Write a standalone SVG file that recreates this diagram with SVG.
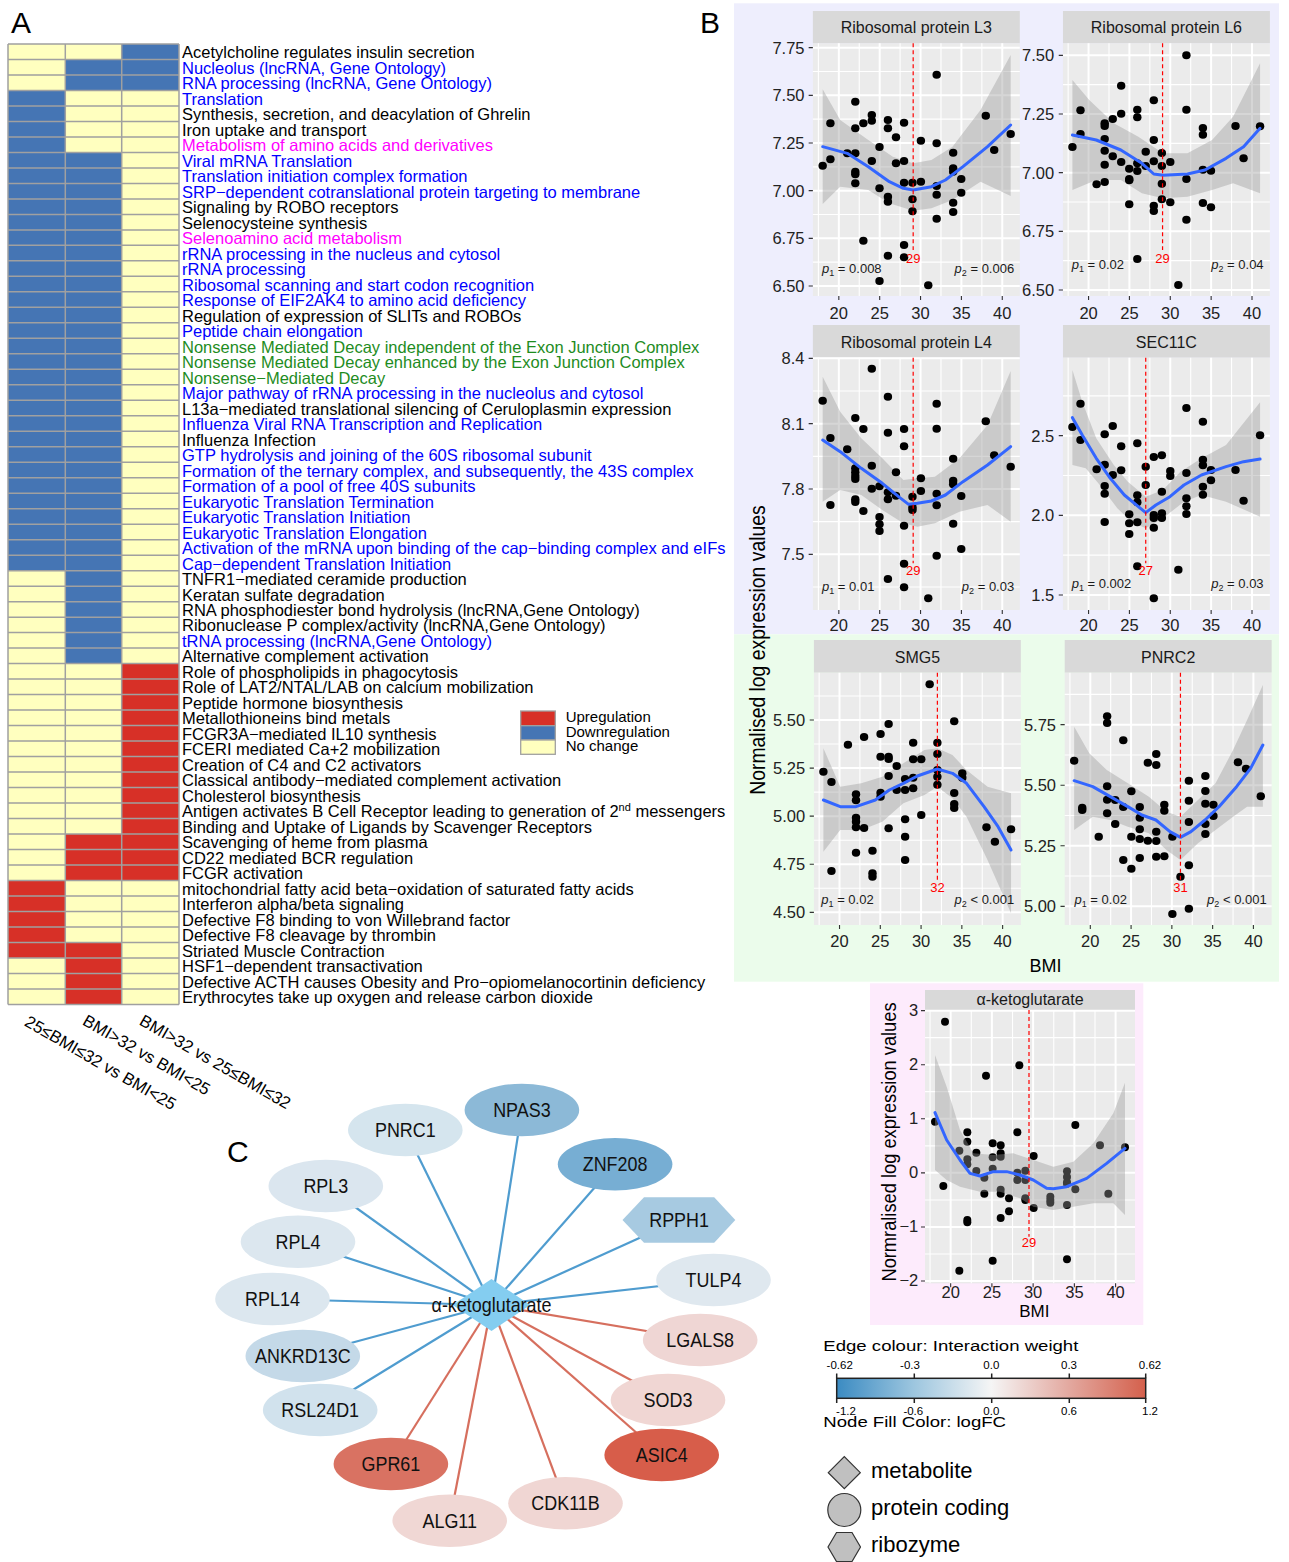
<svg xmlns="http://www.w3.org/2000/svg" width="1289" height="1562" viewBox="0 0 1289 1562">
<defs>
<style>
text{font-family:'Liberation Sans',Arial,sans-serif}
.hm{font-size:16.5px}
.k{fill:#000}.bl{fill:#0000FF}.mg{fill:#FF00FF}.gr{fill:#1E8C1E}
.lt{font-size:30px;fill:#000}
.strip{fill:#D9D9D9}.pan{fill:#EBEBEB}
.gmin{stroke:#fff;stroke-width:1.1;fill:none;vector-effect:non-scaling-stroke}
.gmaj{stroke:#fff;stroke-width:2;fill:none;vector-effect:non-scaling-stroke}
.tk{stroke:#333;stroke-width:1.1;fill:none;vector-effect:non-scaling-stroke}
.band{fill:#999;fill-opacity:0.4}
.fit{stroke:#3366FF;stroke-width:3;fill:none;stroke-linejoin:round;stroke-linecap:round;vector-effect:non-scaling-stroke}
.cut{stroke:#FF0000;stroke-width:1.2;stroke-dasharray:4 3;fill:none;vector-effect:non-scaling-stroke}
.pts circle{fill:#000}
.st{font-size:16px;fill:#1A1A1A;text-anchor:middle}
.yl{font-size:16.5px;fill:#222;text-anchor:end}
.xl{font-size:16.5px;fill:#222;text-anchor:middle}
.rl{font-size:13px;fill:#FF0000;text-anchor:middle}
.pv{font-size:13px;fill:#1A1A1A}
.ax{font-size:22px;fill:#000;text-anchor:middle}
.eb{stroke:#4F9CCF;stroke-width:2.2}
.er{stroke:#D66F5E;stroke-width:2.2}
.nl{font-size:19.5px;fill:#111;text-anchor:middle}
.lg{font-size:22px;fill:#000}
.cb{font-size:11.5px;fill:#000;text-anchor:middle}
.sh{fill:#C0C0C0;stroke:#333;stroke-width:1.2}
</style>
<linearGradient id="cbar" x1="0" y1="0" x2="1" y2="0">
<stop offset="0" stop-color="#3B8BC2"/>
<stop offset="0.25" stop-color="#9DC6DF"/>
<stop offset="0.5" stop-color="#F5F5F5"/>
<stop offset="0.75" stop-color="#E3A9A0"/>
<stop offset="1" stop-color="#D4604C"/>
</linearGradient>
</defs>
<rect width="1289" height="1562" fill="#fff"/>

<!-- Panel A heatmap -->
<g id="panelA">
<text class="lt" x="11" y="33">A</text>
<g id="heatmap-cells">
<rect x="8" y="44" width="171" height="960.38" fill="#FFFFBF"/>
<rect x="8" y="90.47" width="57.3" height="480.19" fill="#4575B4"/>
<rect x="8" y="880.46" width="57.3" height="77.45" fill="#D73027"/>
<rect x="65.3" y="59.49" width="56.4" height="30.98" fill="#4575B4"/>
<rect x="65.3" y="152.43" width="56.4" height="511.17" fill="#4575B4"/>
<rect x="65.3" y="833.99" width="56.4" height="46.47" fill="#D73027"/>
<rect x="65.3" y="942.42" width="56.4" height="61.96" fill="#D73027"/>
<rect x="121.7" y="44" width="57.3" height="46.47" fill="#4575B4"/>
<rect x="121.7" y="663.6" width="57.3" height="216.86" fill="#D73027"/>
<path fill="none" stroke="#A0A0A0" stroke-width="1.5" d="M8 44V1004.38M65.3 44V1004.38M121.7 44V1004.38M179 44V1004.38
M8 44H179M8 59.49H179M8 74.98H179M8 90.47H179M8 105.96H179M8 121.45H179M8 136.94H179M8 152.43H179M8 167.92H179M8 183.41H179M8 198.9H179M8 214.39H179M8 229.88H179M8 245.37H179M8 260.86H179M8 276.35H179M8 291.84H179M8 307.33H179M8 322.82H179M8 338.31H179M8 353.8H179M8 369.29H179M8 384.78H179M8 400.27H179M8 415.76H179M8 431.25H179M8 446.74H179M8 462.23H179M8 477.72H179M8 493.21H179M8 508.7H179M8 524.19H179M8 539.68H179M8 555.17H179M8 570.66H179M8 586.15H179M8 601.64H179M8 617.13H179M8 632.62H179M8 648.11H179M8 663.6H179M8 679.09H179M8 694.58H179M8 710.07H179M8 725.56H179M8 741.05H179M8 756.54H179M8 772.03H179M8 787.52H179M8 803.01H179M8 818.5H179M8 833.99H179M8 849.48H179M8 864.97H179M8 880.46H179M8 895.95H179M8 911.44H179M8 926.93H179M8 942.42H179M8 957.91H179M8 973.4H179M8 988.89H179M8 1004.38H179"/>
</g>
<g id="heatmap-labels" class="hm">
<text class="k" x="182" y="58.3">Acetylcholine regulates insulin secretion</text>
<text class="bl" x="182" y="73.8">Nucleolus (lncRNA, Gene Ontology)</text>
<text class="bl" x="182" y="89.3">RNA processing (lncRNA, Gene Ontology)</text>
<text class="bl" x="182" y="104.8">Translation</text>
<text class="k" x="182" y="120.3">Synthesis, secretion, and deacylation of Ghrelin</text>
<text class="k" x="182" y="135.8">Iron uptake and transport</text>
<text class="mg" x="182" y="151.2">Metabolism of amino acids and derivatives</text>
<text class="bl" x="182" y="166.7">Viral mRNA Translation</text>
<text class="bl" x="182" y="182.2">Translation initiation complex formation</text>
<text class="bl" x="182" y="197.7">SRP−dependent cotranslational protein targeting to membrane</text>
<text class="k" x="182" y="213.2">Signaling by ROBO receptors</text>
<text class="k" x="182" y="228.7">Selenocysteine synthesis</text>
<text class="mg" x="182" y="244.2">Selenoamino acid metabolism</text>
<text class="bl" x="182" y="259.7">rRNA processing in the nucleus and cytosol</text>
<text class="bl" x="182" y="275.2">rRNA processing</text>
<text class="bl" x="182" y="290.7">Ribosomal scanning and start codon recognition</text>
<text class="bl" x="182" y="306.1">Response of EIF2AK4 to amino acid deficiency</text>
<text class="k" x="182" y="321.6">Regulation of expression of SLITs and ROBOs</text>
<text class="bl" x="182" y="337.1">Peptide chain elongation</text>
<text class="gr" x="182" y="352.6">Nonsense Mediated Decay independent of the Exon Junction Complex</text>
<text class="gr" x="182" y="368.1">Nonsense Mediated Decay enhanced by the Exon Junction Complex</text>
<text class="gr" x="182" y="383.6">Nonsense−Mediated Decay</text>
<text class="bl" x="182" y="399.1">Major pathway of rRNA processing in the nucleolus and cytosol</text>
<text class="k" x="182" y="414.6">L13a−mediated translational silencing of Ceruloplasmin expression</text>
<text class="bl" x="182" y="430.1">Influenza Viral RNA Transcription and Replication</text>
<text class="k" x="182" y="445.6">Influenza Infection</text>
<text class="bl" x="182" y="461">GTP hydrolysis and joining of the 60S ribosomal subunit</text>
<text class="bl" x="182" y="476.5">Formation of the ternary complex, and subsequently, the 43S complex</text>
<text class="bl" x="182" y="492">Formation of a pool of free 40S subunits</text>
<text class="bl" x="182" y="507.5">Eukaryotic Translation Termination</text>
<text class="bl" x="182" y="523">Eukaryotic Translation Initiation</text>
<text class="bl" x="182" y="538.5">Eukaryotic Translation Elongation</text>
<text class="bl" x="182" y="554">Activation of the mRNA upon binding of the cap−binding complex and eIFs</text>
<text class="bl" x="182" y="569.5">Cap−dependent Translation Initiation</text>
<text class="k" x="182" y="585">TNFR1−mediated ceramide production</text>
<text class="k" x="182" y="600.5">Keratan sulfate degradation</text>
<text class="k" x="182" y="615.9">RNA phosphodiester bond hydrolysis (lncRNA,Gene Ontology)</text>
<text class="k" x="182" y="631.4">Ribonuclease P complex/activity (lncRNA,Gene Ontology)</text>
<text class="bl" x="182" y="646.9">tRNA processing (lncRNA,Gene Ontology)</text>
<text class="k" x="182" y="662.4">Alternative complement activation</text>
<text class="k" x="182" y="677.9">Role of phospholipids in phagocytosis</text>
<text class="k" x="182" y="693.4">Role of LAT2/NTAL/LAB on calcium mobilization</text>
<text class="k" x="182" y="708.9">Peptide hormone biosynthesis</text>
<text class="k" x="182" y="724.4">Metallothioneins bind metals</text>
<text class="k" x="182" y="739.9">FCGR3A−mediated IL10 synthesis</text>
<text class="k" x="182" y="755.4">FCERI mediated Ca+2 mobilization</text>
<text class="k" x="182" y="770.8">Creation of C4 and C2 activators</text>
<text class="k" x="182" y="786.3">Classical antibody−mediated complement activation</text>
<text class="k" x="182" y="801.8">Cholesterol biosynthesis</text>
<text class="k" x="182" y="817.3">Antigen activates B Cell Receptor leading to generation of 2<tspan font-size="11" dy="-6">nd</tspan><tspan dy="6"> messengers</tspan></text>
<text class="k" x="182" y="832.8">Binding and Uptake of Ligands by Scavenger Receptors</text>
<text class="k" x="182" y="848.3">Scavenging of heme from plasma</text>
<text class="k" x="182" y="863.8">CD22 mediated BCR regulation</text>
<text class="k" x="182" y="879.3">FCGR activation</text>
<text class="k" x="182" y="894.8">mitochondrial fatty acid beta−oxidation of saturated fatty acids</text>
<text class="k" x="182" y="910.3">Interferon alpha/beta signaling</text>
<text class="k" x="182" y="925.7">Defective F8 binding to von Willebrand factor</text>
<text class="k" x="182" y="941.2">Defective F8 cleavage by thrombin</text>
<text class="k" x="182" y="956.7">Striated Muscle Contraction</text>
<text class="k" x="182" y="972.2">HSF1−dependent transactivation</text>
<text class="k" x="182" y="987.7">Defective ACTH causes Obesity and Pro−opiomelanocortinin deficiency</text>
<text class="k" x="182" y="1003.2">Erythrocytes take up oxygen and release carbon dioxide</text>
</g>
<g id="heatmap-columns" font-size="16.9" fill="#000">
<text transform="translate(23.6,1025) rotate(30)">25≤BMI≤32 vs BMI&lt;25</text>
<text transform="translate(81.6,1024) rotate(30)">BMI&gt;32 vs BMI&lt;25</text>
<text transform="translate(138.3,1024) rotate(30)">BMI&gt;32 vs 25≤BMI≤32</text>
</g>
<g id="heatmap-legend">
<rect x="520.7" y="711" width="34.6" height="14.7" fill="#D73027" stroke="#A0A0A0" stroke-width="1.3"/>
<rect x="520.7" y="725.7" width="34.6" height="14.3" fill="#4575B4" stroke="#A0A0A0" stroke-width="1.3"/>
<rect x="520.7" y="740" width="34.6" height="14.3" fill="#FFFFBF" stroke="#A0A0A0" stroke-width="1.3"/>
<text x="565.7" y="721.7" font-size="15">Upregulation</text>
<text x="565.7" y="736.7" font-size="15">Downregulation</text>
<text x="565.7" y="750.7" font-size="15">No change</text>
</g>
</g>

<!-- Panel B backgrounds -->
<rect x="734" y="3.3" width="545" height="631" fill="#EEEEFD"/>
<rect x="734" y="634.3" width="545" height="347.4" fill="#EBFCEB"/>
<rect x="870" y="983.3" width="273.3" height="341.7" fill="#FDEBFC"/>
<text class="lt" x="700" y="33">B</text>

<!-- Row 1 -->
<g id="plot-rpl3">
<g transform="translate(735,0) scale(0.35075,0.33333)">
<rect class="strip" x="222" y="33" width="590" height="97"/>
<rect class="pan" x="222" y="130" width="590" height="758"/>
<path class="gmin" d="M237.75 130V888M354.25 130V888M470.75 130V888M587.25 130V888M703.75 130V888M222 214.5H812M222 357.5H812M222 500.5H812M222 643.5H812M222 786.5H812"/>
<path class="gmaj" d="M296 130V888M412.5 130V888M529 130V888M645.5 130V888M762 130V888M222 143H812M222 286H812M222 429H812M222 572H812M222 715H812M222 858H812"/>
<path class="tk" d="M210 143H222M210 286H222M210 429H222M210 572H222M210 715H222M210 858H222M296 888V900M412.5 888V900M529 888V900M645.5 888V900M762 888V900"/>
<path class="band" d="M250 268L300 360L380 420L450 470L508 490L560 480L620 440L700 330L786 165L786 588L700 545L620 600L560 625L508 632L440 610L380 570L300 560L250 612Z"/>
<g class="pts">
<circle cx="250" cy="497" r="12"/><circle cx="272" cy="478" r="12"/><circle cx="272" cy="370" r="12"/><circle cx="320" cy="460" r="12"/><circle cx="343" cy="305" r="12"/><circle cx="343" cy="385" r="12"/><circle cx="343" cy="460" r="12"/><circle cx="343" cy="515" r="12"/><circle cx="343" cy="523" r="12"/><circle cx="343" cy="550" r="12"/><circle cx="366" cy="370" r="12"/><circle cx="366" cy="722" r="12"/><circle cx="390" cy="345" r="12"/><circle cx="390" cy="362" r="12"/><circle cx="390" cy="483" r="12"/><circle cx="412" cy="441" r="12"/><circle cx="412" cy="565" r="12"/><circle cx="412" cy="843" r="12"/><circle cx="436" cy="360" r="12"/><circle cx="436" cy="385" r="12"/><circle cx="436" cy="590" r="12"/><circle cx="436" cy="605" r="12"/><circle cx="436" cy="767" r="12"/><circle cx="459" cy="412" r="12"/><circle cx="459" cy="490" r="12"/><circle cx="482" cy="368" r="12"/><circle cx="482" cy="483" r="12"/><circle cx="482" cy="548" r="12"/><circle cx="482" cy="735" r="12"/><circle cx="482" cy="772" r="12"/><circle cx="506" cy="548" r="12"/><circle cx="506" cy="598" r="12"/><circle cx="506" cy="634" r="12"/><circle cx="530" cy="422" r="12"/><circle cx="530" cy="545" r="12"/><circle cx="551" cy="856" r="12"/><circle cx="575" cy="224" r="12"/><circle cx="575" cy="430" r="12"/><circle cx="575" cy="558" r="12"/><circle cx="575" cy="584" r="12"/><circle cx="575" cy="656" r="12"/><circle cx="622" cy="458" r="12"/><circle cx="622" cy="505" r="12"/><circle cx="622" cy="515" r="12"/><circle cx="622" cy="608" r="12"/><circle cx="622" cy="636" r="12"/><circle cx="645" cy="537" r="12"/><circle cx="645" cy="578" r="12"/><circle cx="715" cy="347" r="12"/><circle cx="739" cy="450" r="12"/><circle cx="786" cy="402" r="12"/>
</g>
<path class="fit" d="M250 440L320 460L380 500L440 545L480 565L508 570L560 560L600 540L650 500L720 440L786 375"/>
<path class="cut" d="M508 130V750"/>
</g>
<text class="st" x="916.3" y="33.3">Ribosomal protein L3</text>
<g class="yl"><text x="804.5" y="53.7">7.75</text><text x="804.5" y="101.3">7.50</text><text x="804.5" y="149">7.25</text><text x="804.5" y="196.7">7.00</text><text x="804.5" y="244.3">6.75</text><text x="804.5" y="292">6.50</text></g>
<g class="xl"><text x="838.8" y="318.5">20</text><text x="879.7" y="318.5">25</text><text x="920.5" y="318.5">30</text><text x="961.4" y="318.5">35</text><text x="1002.3" y="318.5">40</text></g>
<text class="rl" x="913.2" y="262.7">29</text>
<text class="pv" x="822" y="273.3"><tspan font-style="italic">p</tspan><tspan font-size="9" dy="3">1</tspan><tspan dy="-3"> = 0.008</tspan></text>
<text class="pv" x="1014.2" y="273.3" text-anchor="end"><tspan font-style="italic">p</tspan><tspan font-size="9" dy="3">2</tspan><tspan dy="-3"> = 0.006</tspan></text>
</g>

<g id="plot-rpl6">
<g transform="translate(735,0) scale(0.35075,0.33333)">
<rect class="strip" x="935" y="33" width="590" height="97"/>
<rect class="pan" x="935" y="130" width="590" height="758"/>
<path class="gmin" d="M949.75 130V888M1066.25 130V888M1182.75 130V888M1299.25 130V888M1415.75 130V888M935 254H1525M935 430H1525M935 606H1525M935 782H1525"/>
<path class="gmaj" d="M1008 130V888M1124.5 130V888M1241 130V888M1357.5 130V888M1474 130V888M935 166H1525M935 342H1525M935 518H1525M935 694H1525M935 870H1525"/>
<path class="tk" d="M923 166H935M923 342H935M923 518H935M923 694H935M923 870H935M1008 888V900M1124.5 888V900M1241 888V900M1357.5 888V900M1474 888V900"/>
<path class="band" d="M962 240L1010 300L1080 370L1150 410L1220 460L1290 460L1360 420L1420 350L1497 190L1497 580L1420 550L1360 570L1290 590L1220 595L1160 580L1100 540L1030 540L962 570Z"/>
<g class="pts">
<circle cx="962" cy="441" r="12"/><circle cx="985" cy="331" r="12"/><circle cx="985" cy="402" r="12"/><circle cx="1031" cy="553" r="12"/><circle cx="1054" cy="370" r="12"/><circle cx="1054" cy="378" r="12"/><circle cx="1054" cy="417" r="12"/><circle cx="1054" cy="452" r="12"/><circle cx="1054" cy="494" r="12"/><circle cx="1054" cy="546" r="12"/><circle cx="1077" cy="357" r="12"/><circle cx="1077" cy="469" r="12"/><circle cx="1101" cy="257" r="12"/><circle cx="1101" cy="341" r="12"/><circle cx="1101" cy="486" r="12"/><circle cx="1124" cy="506" r="12"/><circle cx="1124" cy="537" r="12"/><circle cx="1124" cy="541" r="12"/><circle cx="1124" cy="613" r="12"/><circle cx="1147" cy="329" r="12"/><circle cx="1147" cy="352" r="12"/><circle cx="1147" cy="490" r="12"/><circle cx="1147" cy="513" r="12"/><circle cx="1147" cy="777" r="12"/><circle cx="1171" cy="455" r="12"/><circle cx="1171" cy="498" r="12"/><circle cx="1194" cy="301" r="12"/><circle cx="1194" cy="420" r="12"/><circle cx="1194" cy="484" r="12"/><circle cx="1194" cy="617" r="12"/><circle cx="1194" cy="633" r="12"/><circle cx="1217" cy="459" r="12"/><circle cx="1217" cy="498" r="12"/><circle cx="1217" cy="551" r="12"/><circle cx="1217" cy="598" r="12"/><circle cx="1241" cy="486" r="12"/><circle cx="1241" cy="607" r="12"/><circle cx="1264" cy="855" r="12"/><circle cx="1287" cy="166" r="12"/><circle cx="1287" cy="329" r="12"/><circle cx="1287" cy="537" r="12"/><circle cx="1287" cy="659" r="12"/><circle cx="1334" cy="384" r="12"/><circle cx="1334" cy="404" r="12"/><circle cx="1334" cy="509" r="12"/><circle cx="1334" cy="609" r="12"/><circle cx="1357" cy="512" r="12"/><circle cx="1357" cy="622" r="12"/><circle cx="1427" cy="378" r="12"/><circle cx="1450" cy="475" r="12"/><circle cx="1497" cy="379" r="12"/>
</g>
<path class="fit" d="M962 405L1030 420L1100 450L1160 490L1194 522L1220 526L1290 522L1340 510L1400 475L1450 440L1497 385"/>
<path class="cut" d="M1219 130V750"/>
</g>
<text class="st" x="1166.4" y="33.3">Ribosomal protein L6</text>
<g class="yl"><text x="1054.2" y="61.3">7.50</text><text x="1054.2" y="120">7.25</text><text x="1054.2" y="178.7">7.00</text><text x="1054.2" y="237.3">6.75</text><text x="1054.2" y="296">6.50</text></g>
<g class="xl"><text x="1088.6" y="318.5">20</text><text x="1129.4" y="318.5">25</text><text x="1170.3" y="318.5">30</text><text x="1211.1" y="318.5">35</text><text x="1252" y="318.5">40</text></g>
<text class="rl" x="1162.6" y="262.7">29</text>
<text class="pv" x="1071.7" y="269.3"><tspan font-style="italic">p</tspan><tspan font-size="9" dy="3">1</tspan><tspan dy="-3"> = 0.02</tspan></text>
<text class="pv" x="1263.6" y="269.3" text-anchor="end"><tspan font-style="italic">p</tspan><tspan font-size="9" dy="3">2</tspan><tspan dy="-3"> = 0.04</tspan></text>
</g>

<!-- Row 2 -->
<g id="plot-rpl4">
<g transform="translate(735,315) scale(0.35075,0.33333)">
<rect class="strip" x="222" y="30" width="590" height="98"/>
<rect class="pan" x="222" y="128" width="590" height="757"/>
<path class="gmin" d="M237.75 128V885M354.25 128V885M470.75 128V885M587.25 128V885M703.75 128V885M222 228H812M222 424H812M222 620H812M222 816H812"/>
<path class="gmaj" d="M296 128V885M412.5 128V885M529 128V885M645.5 128V885M762 128V885M222 130H812M222 326H812M222 522H812M222 718H812"/>
<path class="tk" d="M210 130H222M210 326H222M210 522H222M210 718H222M296 885V897M412.5 885V897M529 885V897M645.5 885V897M762 885V897"/>
<path class="band" d="M250 185L300 290L360 370L420 430L480 495L520 490L570 485L640 430L720 330L786 168L786 620L720 570L640 590L570 625L520 635L480 625L420 585L360 540L300 525L250 560Z"/>
<g class="pts">
<circle cx="250" cy="257" r="12"/><circle cx="272" cy="369" r="12"/><circle cx="272" cy="570" r="12"/><circle cx="320" cy="403" r="12"/><circle cx="343" cy="309" r="12"/><circle cx="343" cy="460" r="12"/><circle cx="343" cy="472" r="12"/><circle cx="343" cy="483" r="12"/><circle cx="343" cy="492" r="12"/><circle cx="343" cy="553" r="12"/><circle cx="343" cy="561" r="12"/><circle cx="366" cy="342" r="12"/><circle cx="366" cy="588" r="12"/><circle cx="390" cy="161" r="12"/><circle cx="390" cy="452" r="12"/><circle cx="390" cy="521" r="12"/><circle cx="412" cy="514" r="12"/><circle cx="412" cy="606" r="12"/><circle cx="412" cy="628" r="12"/><circle cx="412" cy="648" r="12"/><circle cx="436" cy="245" r="12"/><circle cx="436" cy="353" r="12"/><circle cx="436" cy="532" r="12"/><circle cx="436" cy="553" r="12"/><circle cx="436" cy="792" r="12"/><circle cx="459" cy="472" r="12"/><circle cx="459" cy="542" r="12"/><circle cx="482" cy="342" r="12"/><circle cx="482" cy="394" r="12"/><circle cx="482" cy="632" r="12"/><circle cx="482" cy="746" r="12"/><circle cx="482" cy="817" r="12"/><circle cx="506" cy="545" r="12"/><circle cx="506" cy="577" r="12"/><circle cx="506" cy="585" r="12"/><circle cx="530" cy="490" r="12"/><circle cx="530" cy="528" r="12"/><circle cx="551" cy="850" r="12"/><circle cx="575" cy="266" r="12"/><circle cx="575" cy="341" r="12"/><circle cx="575" cy="536" r="12"/><circle cx="575" cy="571" r="12"/><circle cx="575" cy="722" r="12"/><circle cx="622" cy="431" r="12"/><circle cx="622" cy="497" r="12"/><circle cx="622" cy="508" r="12"/><circle cx="622" cy="626" r="12"/><circle cx="645" cy="543" r="12"/><circle cx="645" cy="702" r="12"/><circle cx="715" cy="319" r="12"/><circle cx="739" cy="421" r="12"/><circle cx="786" cy="455" r="12"/>
</g>
<path class="fit" d="M250 375L300 410L360 460L420 505L470 548L495 568L520 565L560 558L600 540L650 500L720 450L786 395"/>
<path class="cut" d="M508 128V745"/>
</g>
<text class="st" x="916.3" y="347.7">Ribosomal protein L4</text>
<g class="yl"><text x="804.5" y="364.3">8.4</text><text x="804.5" y="429.7">8.1</text><text x="804.5" y="495">7.8</text><text x="804.5" y="560.3">7.5</text></g>
<g class="xl"><text x="838.8" y="631">20</text><text x="879.7" y="631">25</text><text x="920.5" y="631">30</text><text x="961.4" y="631">35</text><text x="1002.3" y="631">40</text></g>
<text class="rl" x="913.2" y="575">29</text>
<text class="pv" x="822" y="591"><tspan font-style="italic">p</tspan><tspan font-size="9" dy="3">1</tspan><tspan dy="-3"> = 0.01</tspan></text>
<text class="pv" x="1014.2" y="591" text-anchor="end"><tspan font-style="italic">p</tspan><tspan font-size="9" dy="3">2</tspan><tspan dy="-3"> = 0.03</tspan></text>
</g>

<g id="plot-sec11c">
<g transform="translate(735,315) scale(0.35075,0.33333)">
<rect class="strip" x="935" y="30" width="590" height="98"/>
<rect class="pan" x="935" y="128" width="590" height="757"/>
<path class="gmin" d="M949.75 128V885M1066.25 128V885M1182.75 128V885M1299.25 128V885M1415.75 128V885M935 242.5H1525M935 481.5H1525M935 720.5H1525"/>
<path class="gmaj" d="M1008 128V885M1124.5 128V885M1241 128V885M1357.5 128V885M1474 128V885M935 362H1525M935 601H1525M935 840H1525"/>
<path class="tk" d="M923 362H935M923 601H935M923 840H935M1008 885V897M1124.5 885V897M1241 885V897M1357.5 885V897M1474 885V897"/>
<path class="band" d="M962 165L990 260L1030 370L1080 450L1120 500L1171 545L1220 525L1270 470L1330 430L1400 390L1497 262L1497 605L1400 560L1330 540L1280 560L1220 610L1171 640L1130 620L1090 580L1040 510L1000 460L962 450Z"/>
<g class="pts">
<circle cx="962" cy="336" r="12"/><circle cx="985" cy="266" r="12"/><circle cx="985" cy="375" r="12"/><circle cx="1031" cy="463" r="12"/><circle cx="1054" cy="358" r="12"/><circle cx="1054" cy="449" r="12"/><circle cx="1054" cy="513" r="12"/><circle cx="1054" cy="536" r="12"/><circle cx="1054" cy="621" r="12"/><circle cx="1077" cy="333" r="12"/><circle cx="1077" cy="480" r="12"/><circle cx="1101" cy="394" r="12"/><circle cx="1101" cy="466" r="12"/><circle cx="1124" cy="598" r="12"/><circle cx="1124" cy="625" r="12"/><circle cx="1124" cy="657" r="12"/><circle cx="1147" cy="385" r="12"/><circle cx="1147" cy="541" r="12"/><circle cx="1147" cy="562" r="12"/><circle cx="1147" cy="622" r="12"/><circle cx="1147" cy="754" r="12"/><circle cx="1171" cy="455" r="12"/><circle cx="1171" cy="510" r="12"/><circle cx="1194" cy="426" r="12"/><circle cx="1194" cy="600" r="12"/><circle cx="1194" cy="609" r="12"/><circle cx="1194" cy="638" r="12"/><circle cx="1194" cy="850" r="12"/><circle cx="1217" cy="421" r="12"/><circle cx="1217" cy="530" r="12"/><circle cx="1217" cy="595" r="12"/><circle cx="1217" cy="609" r="12"/><circle cx="1241" cy="468" r="12"/><circle cx="1241" cy="483" r="12"/><circle cx="1264" cy="764" r="12"/><circle cx="1287" cy="279" r="12"/><circle cx="1287" cy="474" r="12"/><circle cx="1287" cy="550" r="12"/><circle cx="1287" cy="574" r="12"/><circle cx="1287" cy="597" r="12"/><circle cx="1334" cy="320" r="12"/><circle cx="1334" cy="434" r="12"/><circle cx="1334" cy="451" r="12"/><circle cx="1334" cy="515" r="12"/><circle cx="1334" cy="539" r="12"/><circle cx="1357" cy="465" r="12"/><circle cx="1357" cy="496" r="12"/><circle cx="1427" cy="465" r="12"/><circle cx="1450" cy="557" r="12"/><circle cx="1497" cy="361" r="12"/>
</g>
<path class="fit" d="M962 308L990 360L1030 430L1070 490L1110 540L1150 575L1171 593L1200 570L1240 545L1280 510L1330 480L1400 455L1450 440L1497 432"/>
<path class="cut" d="M1171 128V745"/>
</g>
<text class="st" x="1166.4" y="347.7">SEC11C</text>
<g class="yl"><text x="1054.2" y="441.7">2.5</text><text x="1054.2" y="521.3">2.0</text><text x="1054.2" y="601">1.5</text></g>
<g class="xl"><text x="1088.6" y="631">20</text><text x="1129.4" y="631">25</text><text x="1170.3" y="631">30</text><text x="1211.1" y="631">35</text><text x="1252" y="631">40</text></g>
<text class="rl" x="1145.7" y="575">27</text>
<text class="pv" x="1071.7" y="588"><tspan font-style="italic">p</tspan><tspan font-size="9" dy="3">1</tspan><tspan dy="-3"> = 0.002</tspan></text>
<text class="pv" x="1263.6" y="588" text-anchor="end"><tspan font-style="italic">p</tspan><tspan font-size="9" dy="3">2</tspan><tspan dy="-3"> = 0.03</tspan></text>
</g>

<!-- Row 3 -->
<g id="plot-smg5">
<g transform="translate(735,630) scale(0.35075,0.33333)">
<rect class="strip" x="225" y="30" width="590" height="98"/>
<rect class="pan" x="225" y="128" width="590" height="757"/>
<path class="gmin" d="M239.9 128V885M356.1 128V885M472.4 128V885M588.6 128V885M704.9 128V885M225 197.9H815M225 342.1H815M225 486.4H815M225 630.6H815M225 774.9H815"/>
<path class="gmaj" d="M298 128V885M414.25 128V885M530.5 128V885M646.75 128V885M763 128V885M225 270H815M225 414.25H815M225 558.5H815M225 702.75H815M225 847H815"/>
<path class="tk" d="M213 270H225M213 414.25H225M213 558.5H225M213 702.75H225M213 847H225M298 885V897M414.25 885V897M530.5 885V897M646.75 885V897M763 885V897"/>
<path class="band" d="M252 355L300 470L360 460L420 440L480 400L540 360L577 355L620 375L660 420L720 470L787 490L787 850L720 690L660 560L620 505L577 470L540 495L480 520L420 575L360 600L300 600L252 665Z"/>
<g class="pts">
<circle cx="252" cy="425" r="12"/><circle cx="275" cy="456" r="12"/><circle cx="275" cy="723" r="12"/><circle cx="322" cy="344" r="12"/><circle cx="345" cy="493" r="12"/><circle cx="345" cy="511" r="12"/><circle cx="345" cy="563" r="12"/><circle cx="345" cy="575" r="12"/><circle cx="345" cy="592" r="12"/><circle cx="345" cy="668" r="12"/><circle cx="368" cy="321" r="12"/><circle cx="368" cy="594" r="12"/><circle cx="392" cy="662" r="12"/><circle cx="392" cy="730" r="12"/><circle cx="392" cy="740" r="12"/><circle cx="415" cy="312" r="12"/><circle cx="415" cy="380" r="12"/><circle cx="415" cy="488" r="12"/><circle cx="415" cy="500" r="12"/><circle cx="438" cy="282" r="12"/><circle cx="438" cy="380" r="12"/><circle cx="438" cy="387" r="12"/><circle cx="438" cy="438" r="12"/><circle cx="438" cy="595" r="12"/><circle cx="461" cy="408" r="12"/><circle cx="461" cy="480" r="12"/><circle cx="485" cy="447" r="12"/><circle cx="485" cy="480" r="12"/><circle cx="485" cy="568" r="12"/><circle cx="485" cy="620" r="12"/><circle cx="485" cy="690" r="12"/><circle cx="508" cy="338" r="12"/><circle cx="508" cy="388" r="12"/><circle cx="508" cy="443" r="12"/><circle cx="508" cy="475" r="12"/><circle cx="531" cy="388" r="12"/><circle cx="531" cy="555" r="12"/><circle cx="555" cy="163" r="12"/><circle cx="577" cy="338" r="12"/><circle cx="577" cy="372" r="12"/><circle cx="577" cy="420" r="12"/><circle cx="577" cy="440" r="12"/><circle cx="577" cy="464" r="12"/><circle cx="625" cy="274" r="12"/><circle cx="625" cy="489" r="12"/><circle cx="625" cy="522" r="12"/><circle cx="625" cy="534" r="12"/><circle cx="648" cy="430" r="12"/><circle cx="648" cy="443" r="12"/><circle cx="717" cy="592" r="12"/><circle cx="741" cy="635" r="12"/><circle cx="787" cy="598" r="12"/>
</g>
<path class="fit" d="M252 510L300 530L345 530L400 510L440 480L480 460L520 438L577 417L620 430L660 460L710 530L750 590L787 660"/>
<path class="cut" d="M577 128V750"/>
</g>
<text class="st" x="917.4" y="662.7">SMG5</text>
<g class="yl"><text x="805.2" y="726">5.50</text><text x="805.2" y="774">5.25</text><text x="805.2" y="822.2">5.00</text><text x="805.2" y="870.3">4.75</text><text x="805.2" y="918.3">4.50</text></g>
<g class="xl"><text x="839.5" y="946.7">20</text><text x="880.3" y="946.7">25</text><text x="921.1" y="946.7">30</text><text x="961.9" y="946.7">35</text><text x="1002.6" y="946.7">40</text></g>
<text class="rl" x="937.4" y="891.7">32</text>
<text class="pv" x="821.3" y="904"><tspan font-style="italic">p</tspan><tspan font-size="9" dy="3">1</tspan><tspan dy="-3"> = 0.02</tspan></text>
<text class="pv" x="1014.2" y="904" text-anchor="end"><tspan font-style="italic">p</tspan><tspan font-size="9" dy="3">2</tspan><tspan dy="-3"> &lt; 0.001</tspan></text>
</g>

<g id="plot-pnrc2">
<g transform="translate(735,630) scale(0.35075,0.33333)">
<rect class="strip" x="940" y="30" width="590" height="98"/>
<rect class="pan" x="940" y="128" width="590" height="757"/>
<path class="gmin" d="M954.9 128V885M1071.1 128V885M1187.4 128V885M1303.6 128V885M1419.9 128V885M940 193.2H1530M940 374.8H1530M940 556.5H1530M940 738.2H1530"/>
<path class="gmaj" d="M1013 128V885M1129.25 128V885M1245.5 128V885M1361.75 128V885M1478 128V885M940 284H1530M940 465.7H1530M940 647.3H1530M940 829H1530"/>
<path class="tk" d="M928 284H940M928 465.7H940M928 647.3H940M928 829H940M1013 885V897M1129.25 885V897M1245.5 885V897M1361.75 885V897M1478 885V897"/>
<path class="band" d="M967 290L1010 370L1060 420L1120 460L1180 500L1230 545L1270 560L1320 510L1370 460L1420 360L1460 270L1505 165L1505 530L1460 530L1420 560L1370 600L1320 640L1270 690L1230 660L1180 610L1120 590L1070 570L1020 560L967 600Z"/>
<g class="pts">
<circle cx="967" cy="392" r="12"/><circle cx="990" cy="533" r="12"/><circle cx="990" cy="540" r="12"/><circle cx="1037" cy="620" r="12"/><circle cx="1061" cy="259" r="12"/><circle cx="1061" cy="279" r="12"/><circle cx="1061" cy="469" r="12"/><circle cx="1061" cy="509" r="12"/><circle cx="1061" cy="550" r="12"/><circle cx="1084" cy="510" r="12"/><circle cx="1084" cy="582" r="12"/><circle cx="1107" cy="331" r="12"/><circle cx="1107" cy="531" r="12"/><circle cx="1107" cy="690" r="12"/><circle cx="1130" cy="484" r="12"/><circle cx="1130" cy="620" r="12"/><circle cx="1130" cy="716" r="12"/><circle cx="1154" cy="531" r="12"/><circle cx="1154" cy="563" r="12"/><circle cx="1154" cy="598" r="12"/><circle cx="1154" cy="627" r="12"/><circle cx="1154" cy="684" r="12"/><circle cx="1177" cy="398" r="12"/><circle cx="1177" cy="632" r="12"/><circle cx="1201" cy="372" r="12"/><circle cx="1201" cy="405" r="12"/><circle cx="1201" cy="605" r="12"/><circle cx="1201" cy="633" r="12"/><circle cx="1201" cy="680" r="12"/><circle cx="1224" cy="524" r="12"/><circle cx="1224" cy="542" r="12"/><circle cx="1224" cy="679" r="12"/><circle cx="1247" cy="620" r="12"/><circle cx="1247" cy="852" r="12"/><circle cx="1270" cy="740" r="12"/><circle cx="1294" cy="452" r="12"/><circle cx="1294" cy="512" r="12"/><circle cx="1294" cy="576" r="12"/><circle cx="1294" cy="706" r="12"/><circle cx="1294" cy="836" r="12"/><circle cx="1341" cy="438" r="12"/><circle cx="1341" cy="483" r="12"/><circle cx="1341" cy="521" r="12"/><circle cx="1341" cy="582" r="12"/><circle cx="1341" cy="612" r="12"/><circle cx="1364" cy="524" r="12"/><circle cx="1364" cy="558" r="12"/><circle cx="1434" cy="397" r="12"/><circle cx="1457" cy="416" r="12"/><circle cx="1499" cy="499" r="12"/>
</g>
<path class="fit" d="M967 452L1020 470L1070 500L1120 530L1160 555L1200 570L1240 605L1270 622L1300 605L1340 570L1380 530L1430 470L1470 415L1505 345"/>
<path class="cut" d="M1270 128V750"/>
</g>
<text class="st" x="1168.2" y="662.7">PNRC2</text>
<g class="yl"><text x="1056" y="730.7">5.75</text><text x="1056" y="791.3">5.50</text><text x="1056" y="852">5.25</text><text x="1056" y="912.3">5.00</text></g>
<g class="xl"><text x="1090.3" y="946.7">20</text><text x="1131.1" y="946.7">25</text><text x="1171.9" y="946.7">30</text><text x="1212.6" y="946.7">35</text><text x="1253.4" y="946.7">40</text></g>
<text class="rl" x="1180.5" y="891.7">31</text>
<text class="pv" x="1074.5" y="904"><tspan font-style="italic">p</tspan><tspan font-size="9" dy="3">1</tspan><tspan dy="-3"> = 0.02</tspan></text>
<text class="pv" x="1266.7" y="904" text-anchor="end"><tspan font-style="italic">p</tspan><tspan font-size="9" dy="3">2</tspan><tspan dy="-3"> &lt; 0.001</tspan></text>
</g>

<text class="ax" transform="translate(765,650) rotate(-90) scale(0.88,1)">Normalised log expression values</text>
<text x="1045.4" y="971.7" font-size="18" text-anchor="middle">BMI</text>

<!-- alpha-ketoglutarate plot -->
<g id="plot-akg">
<g transform="translate(860,980) scale(0.33333)">
<rect class="strip" x="195" y="30" width="630" height="60"/>
<rect class="pan" x="195" y="90" width="630" height="820"/>
<path class="gmin" d="M210.2 90V910M333.9 90V910M457.6 90V910M581.3 90V910M705 90V910M195 173H825M195 335H825M195 497.5H825M195 660H825M195 822H825"/>
<path class="gmaj" d="M272 90V910M395.7 90V910M519.4 90V910M643.1 90V910M766.8 90V910M195 92H825M195 254.2H825M195 416.4H825M195 578.6H825M195 740.8H825M195 903H825"/>
<path class="tk" d="M183 92H195M183 254.2H195M183 416.4H195M183 578.6H195M183 740.8H195M183 903H195M272 910V922M395.7 910V922M519.4 910V922M643.1 910V922M766.8 910V922"/>
<g class="pts">
<circle cx="225" cy="425" r="12"/><circle cx="250" cy="618" r="12"/><circle cx="255" cy="125" r="12"/><circle cx="298" cy="512" r="12"/><circle cx="298" cy="872" r="12"/><circle cx="322" cy="457" r="12"/><circle cx="322" cy="485" r="12"/><circle cx="322" cy="538" r="12"/><circle cx="322" cy="553" r="12"/><circle cx="322" cy="720" r="12"/><circle cx="322" cy="727" r="12"/><circle cx="349" cy="518" r="12"/><circle cx="349" cy="573" r="12"/><circle cx="378" cy="287" r="12"/><circle cx="373" cy="593" r="12"/><circle cx="373" cy="641" r="12"/><circle cx="398" cy="490" r="12"/><circle cx="398" cy="532" r="12"/><circle cx="398" cy="566" r="12"/><circle cx="398" cy="842" r="12"/><circle cx="422" cy="496" r="12"/><circle cx="422" cy="520" r="12"/><circle cx="422" cy="530" r="12"/><circle cx="422" cy="629" r="12"/><circle cx="422" cy="641" r="12"/><circle cx="422" cy="714" r="12"/><circle cx="447" cy="655" r="12"/><circle cx="447" cy="694" r="12"/><circle cx="472" cy="457" r="12"/><circle cx="472" cy="578" r="12"/><circle cx="472" cy="600" r="12"/><circle cx="478" cy="256" r="12"/><circle cx="496" cy="572" r="12"/><circle cx="496" cy="600" r="12"/><circle cx="496" cy="655" r="12"/><circle cx="496" cy="660" r="12"/><circle cx="521" cy="528" r="12"/><circle cx="521" cy="684" r="12"/><circle cx="571" cy="650" r="12"/><circle cx="571" cy="660" r="12"/><circle cx="571" cy="668" r="12"/><circle cx="621" cy="574" r="12"/><circle cx="621" cy="591" r="12"/><circle cx="621" cy="607" r="12"/><circle cx="621" cy="611" r="12"/><circle cx="621" cy="675" r="12"/><circle cx="621" cy="838" r="12"/><circle cx="646" cy="435" r="12"/><circle cx="646" cy="628" r="12"/><circle cx="720" cy="496" r="12"/><circle cx="745" cy="641" r="12"/><circle cx="795" cy="502" r="12"/>
</g>
<path class="band" d="M225 225L260 320L300 450L340 520L400 525L460 520L520 540L580 560L640 545L700 490L760 400L795 308L795 705L760 670L700 670L640 680L580 690L520 680L480 655L420 635L360 635L300 620L260 600L225 570Z"/>
<path class="fit" d="M225 398L260 480L300 540L330 580L360 588L400 575L440 575L480 585L520 600L560 625L580 626L620 620L680 595L740 550L795 505"/>
<path class="cut" d="M507 90V770"/>
</g>
<text class="st" x="1030" y="1005">α-ketoglutarate</text>
<g class="yl" font-size="15.5"><text x="918.3" y="1016">3</text><text x="918.3" y="1070">2</text><text x="918.3" y="1124">1</text><text x="918.3" y="1178.3">0</text><text x="918.3" y="1232.3">−1</text><text x="918.3" y="1286.3">−2</text></g>
<g class="xl" font-size="16"><text x="950.7" y="1298.3">20</text><text x="991.9" y="1298.3">25</text><text x="1033.1" y="1298.3">30</text><text x="1074.4" y="1298.3">35</text><text x="1115.6" y="1298.3">40</text></g>
<text class="rl" x="1029" y="1246.7">29</text>
<text x="1034.3" y="1317.3" font-size="17" text-anchor="middle">BMI</text>
<text transform="translate(896,1142) rotate(-90) scale(0.87,1)" font-size="21" text-anchor="middle">Normralised log expression values</text>
</g>

<!-- Panel C network -->
<text class="lt" x="227" y="1162">C</text>
<g id="edges">
<line class="eb" x1="491.5" y1="1305" x2="405.3" y2="1130"/>
<line class="eb" x1="491.5" y1="1305" x2="521.9" y2="1110"/>
<line class="eb" x1="491.5" y1="1305" x2="615.1" y2="1164.3"/>
<line class="eb" x1="491.5" y1="1305" x2="679.1" y2="1220"/>
<line class="eb" x1="491.5" y1="1305" x2="713.5" y2="1280"/>
<line class="er" x1="491.5" y1="1305" x2="700.2" y2="1340"/>
<line class="er" x1="491.5" y1="1305" x2="668" y2="1400"/>
<line class="er" x1="491.5" y1="1305" x2="661.7" y2="1455"/>
<line class="er" x1="491.5" y1="1305" x2="565.5" y2="1503.3"/>
<line class="er" x1="491.5" y1="1305" x2="449.7" y2="1520.7"/>
<line class="er" x1="491.5" y1="1305" x2="390.9" y2="1464"/>
<line class="eb" x1="491.5" y1="1305" x2="320.2" y2="1410"/>
<line class="eb" x1="491.5" y1="1305" x2="302.8" y2="1356"/>
<line class="eb" x1="491.5" y1="1305" x2="272.5" y2="1299"/>
<line class="eb" x1="491.5" y1="1305" x2="298" y2="1241.7"/>
<line class="eb" x1="491.5" y1="1305" x2="325.8" y2="1186"/>
</g>
<g id="node-PNRC1"><ellipse cx="405.3" cy="1130" rx="57.3" ry="26.3" fill="#D5E5EE"/><text class="nl" transform="translate(405.3,1137) scale(0.92,1)">PNRC1</text></g>
<g id="node-NPAS3"><ellipse cx="521.9" cy="1110" rx="57.3" ry="26.3" fill="#8CB9D7"/><text class="nl" transform="translate(521.9,1117) scale(0.92,1)">NPAS3</text></g>
<g id="node-ZNF208"><ellipse cx="615.1" cy="1164.3" rx="57.3" ry="26.3" fill="#77AED3"/><text class="nl" transform="translate(615.1,1171.3) scale(0.92,1)">ZNF208</text></g>
<g id="node-RPPH1"><polygon points="622.5,1220 644,1197.3 714.2,1197.3 735.3,1220 714.2,1242.7 644,1242.7" fill="#A7CAE1"/><text class="nl" transform="translate(679.1,1227) scale(0.92,1)">RPPH1</text></g>
<g id="node-TULP4"><ellipse cx="713.5" cy="1280" rx="57.3" ry="26.3" fill="#DFE8EF"/><text class="nl" transform="translate(713.5,1287) scale(0.92,1)">TULP4</text></g>
<g id="node-LGALS8"><ellipse cx="700.2" cy="1340" rx="57.3" ry="26.3" fill="#EFD6D4"/><text class="nl" transform="translate(700.2,1347) scale(0.92,1)">LGALS8</text></g>
<g id="node-SOD3"><ellipse cx="668" cy="1400" rx="57.3" ry="26.3" fill="#F0D6D3"/><text class="nl" transform="translate(668,1407) scale(0.92,1)">SOD3</text></g>
<g id="node-ASIC4"><ellipse cx="661.7" cy="1455" rx="57.3" ry="26.3" fill="#D75D4A"/><text class="nl" transform="translate(661.7,1462) scale(0.92,1)">ASIC4</text></g>
<g id="node-CDK11B"><ellipse cx="565.5" cy="1503.3" rx="57.3" ry="26.3" fill="#F0D6D3"/><text class="nl" transform="translate(565.5,1510.3) scale(0.92,1)">CDK11B</text></g>
<g id="node-ALG11"><ellipse cx="449.7" cy="1520.7" rx="57.3" ry="26.3" fill="#F0D7D4"/><text class="nl" transform="translate(449.7,1527.7) scale(0.92,1)">ALG11</text></g>
<g id="node-GPR61"><ellipse cx="390.9" cy="1464" rx="57.3" ry="26.3" fill="#D97262"/><text class="nl" transform="translate(390.9,1471) scale(0.92,1)">GPR61</text></g>
<g id="node-RSL24D1"><ellipse cx="320.2" cy="1410" rx="57.3" ry="26.3" fill="#D1E2ED"/><text class="nl" transform="translate(320.2,1417) scale(0.92,1)">RSL24D1</text></g>
<g id="node-ANKRD13C"><ellipse cx="302.8" cy="1356" rx="57.3" ry="26.3" fill="#C4D9E8"/><text class="nl" transform="translate(302.8,1363) scale(0.92,1)">ANKRD13C</text></g>
<g id="node-RPL14"><ellipse cx="272.5" cy="1299" rx="57.3" ry="26.3" fill="#DCE7EF"/><text class="nl" transform="translate(272.5,1306) scale(0.92,1)">RPL14</text></g>
<g id="node-RPL4"><ellipse cx="298" cy="1241.7" rx="57.3" ry="26.3" fill="#DCE7EF"/><text class="nl" transform="translate(298,1248.7) scale(0.92,1)">RPL4</text></g>
<g id="node-RPL3"><ellipse cx="325.8" cy="1186" rx="57.3" ry="26.3" fill="#DBE6EF"/><text class="nl" transform="translate(325.8,1193) scale(0.92,1)">RPL3</text></g>
<g id="node-aKG"><polygon points="491.5,1279 530.3,1305 491.5,1331 452.7,1305" fill="#84CDF0"/><text class="nl" transform="translate(491.5,1312) scale(0.92,1)">α-ketoglutarate</text></g>

<!-- Legends -->
<g id="colour-legend">
<text transform="translate(823.3,1350.7) scale(1.24,1)" font-size="15">Edge colour: Interaction weight</text>
<rect x="836.7" y="1378.3" width="309" height="20" fill="url(#cbar)" stroke="#222" stroke-width="1.5"/>
<path stroke="#222" stroke-width="1.5" d="M836.7 1373.5V1378.3M914.3 1373.5V1378.3M991.7 1373.5V1378.3M1069.3 1373.5V1378.3M1145.7 1373.5V1378.3M836.7 1398.3V1403M914.3 1398.3V1403M991.7 1398.3V1403M1069.3 1398.3V1403M1145.7 1398.3V1403"/>
<g class="cb"><text x="839.7" y="1369.3">-0.62</text><text x="910" y="1369.3">-0.3</text><text x="991.3" y="1369.3">0.0</text><text x="1069" y="1369.3">0.3</text><text x="1150" y="1369.3">0.62</text>
<text x="846" y="1414.5">-1.2</text><text x="913.3" y="1414.5">-0.6</text><text x="991.3" y="1414.5">0.0</text><text x="1069" y="1414.5">0.6</text><text x="1150" y="1414.5">1.2</text></g>
<text transform="translate(823.3,1427) scale(1.24,1)" font-size="15">Node Fill Color: logFC</text>
</g>
<g id="shape-legend">
<polygon class="sh" points="828.3,1472.7 844.3,1456.7 860.3,1472.7 844.3,1488.7"/>
<circle class="sh" cx="844.3" cy="1510" r="16.5"/>
<polygon class="sh" points="828,1547 836.5,1532.5 852,1532.5 860.5,1547 852,1561.5 836.5,1561.5"/>
<text class="lg" x="871" y="1478.3">metabolite</text>
<text class="lg" x="871" y="1515">protein coding</text>
<text class="lg" x="871" y="1551.7">ribozyme</text>
</g>
</svg>
